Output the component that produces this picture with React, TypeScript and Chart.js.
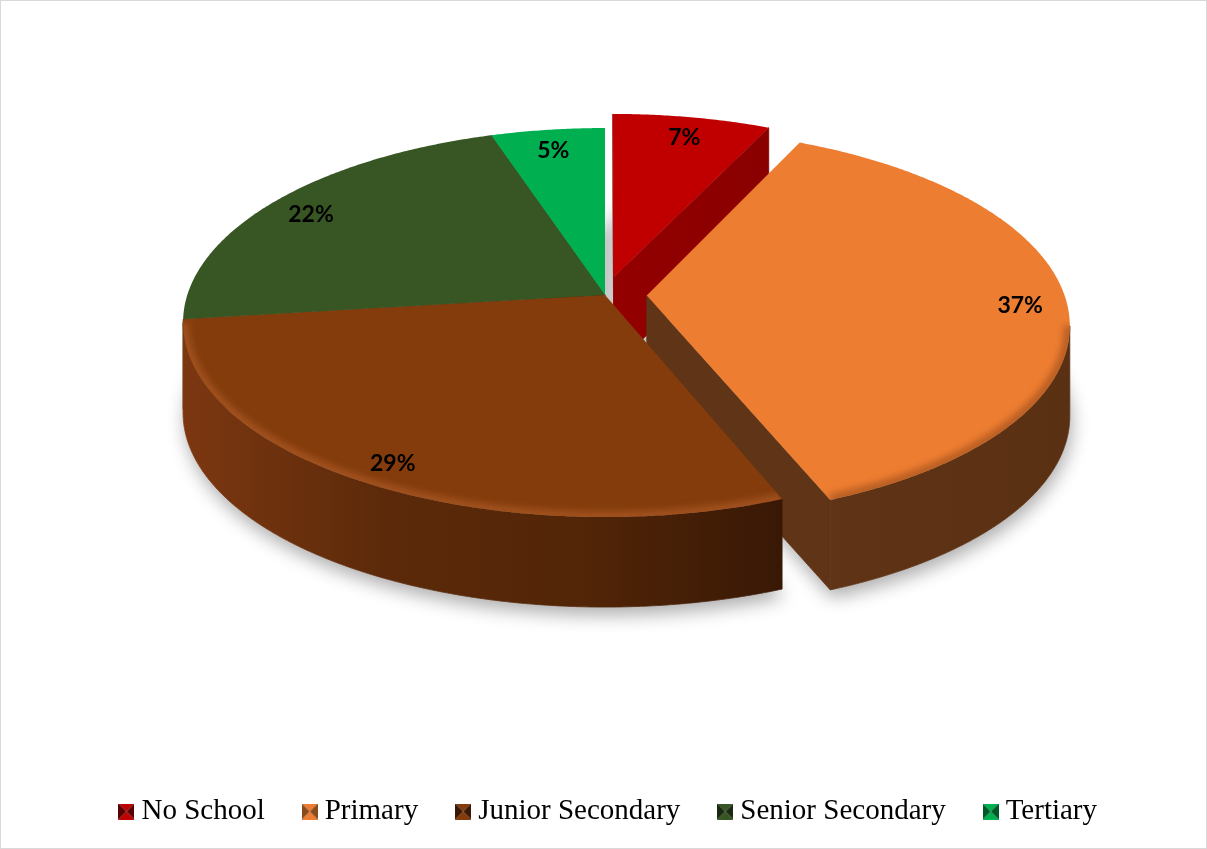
import React, { useEffect, useRef } from "react";
import { Chart, registerables } from "chart.js";

Chart.register(...registerables);

// ---- data ----
const categories = ["No School", "Primary", "Junior Secondary", "Senior Secondary", "Tertiary"];
const shares = [7, 37, 29, 22, 5];

// ---- styles ----
const topColors = ["#C00000", "#ED7D31", "#843C0C", "#375623", "#00B050"];
const sideStops = [
  ["#930000", "#8A0000"],
  ["#603416", "#5A3013"],
  ["#7C3711", "#5C2A0A", "#522507", "#381805"],
  ["#2F4A1E", "#213616"],
  ["#008A40", "#006B31"],
];
const markerDark = ["#5A0000", "#8A4A1C", "#3A1804", "#1A2A10", "#005A28"];
const rimColors = [
  "rgba(255,140,140,0.2)",
  "rgba(110,50,15,0.4)",
  "rgba(200,110,55,0.4)",
  "rgba(130,170,110,0.2)",
  "rgba(130,255,180,0.2)",
];
const explode = [0.1, 0.1, 0, 0, 0];

// projection of the tilted pie (canvas coordinates)
const CX = 604;
const CY = 294;
const AX = 417.7;
const BY = 190.6;
const PC = -0.1416;
const DEPTH = 90;
const LABEL_R = 0.89;
const LABEL_DY = 5;

function proj(u: number, v: number, h: number): [number, number] {
  const d = 1 + PC * v;
  return [CX + (AX * u) / d, CY + (BY * v) / d + h * DEPTH];
}

type Slice = {
  i: number;
  arc: any;
  mid: number;
  eu: number;
  ev: number;
  ring: [number, number][];
  key: number;
};

function buildSlices(chart: any): Slice[] {
  const meta = chart.getDatasetMeta(0);
  return meta.data.map((arc: any, i: number) => {
    const s = arc.startAngle;
    const e = arc.endAngle;
    const r = arc.outerRadius;
    const mid = (s + e) / 2;
    const eu = explode[i] * Math.cos(mid);
    const ev = explode[i] * Math.sin(mid);
    const n = Math.max(2, Math.ceil((e - s) / 0.008));
    const ring: [number, number][] = [];
    for (let k = 0; k <= n; k++) {
      const a = s + ((e - s) * k) / n;
      const px = arc.x + r * Math.cos(a);
      const py = arc.y + r * Math.sin(a);
      ring.push([eu + (px - arc.x) / r, ev + (py - arc.y) / r]);
    }
    let sv = ev;
    ring.forEach((p) => (sv += p[1]));
    return { i, arc, mid, eu, ev, ring, key: sv / (ring.length + 1) };
  });
}

function tracePoly(ctx: CanvasRenderingContext2D, pts: [number, number][]) {
  ctx.moveTo(pts[0][0], pts[0][1]);
  for (let k = 1; k < pts.length; k++) ctx.lineTo(pts[k][0], pts[k][1]);
  ctx.closePath();
}

function sideFill(ctx: CanvasRenderingContext2D, sl: Slice) {
  const xs = sl.ring.map((p) => proj(p[0], p[1], 0)[0]);
  const x0 = Math.min(...xs);
  const x1 = Math.max(...xs);
  const g = ctx.createLinearGradient(x0, 0, x1 + 1, 0);
  const stops = sideStops[sl.i];
  stops.forEach((c, k) => g.addColorStop(stops.length === 1 ? 0 : k / (stops.length - 1), c));
  return g;
}

function frontRuns(sl: Slice): [number, number][][] {
  const runs: [number, number][][] = [];
  let cur: [number, number][] | null = null;
  for (let k = 0; k < sl.ring.length - 1; k++) {
    const a = sl.ring[k];
    const b = sl.ring[k + 1];
    const pa = proj(a[0], a[1], 0);
    const pb = proj(b[0], b[1], 0);
    if (pb[0] < pa[0]) {
      if (!cur) {
        cur = [a];
        runs.push(cur);
      }
      cur.push(b);
    } else {
      cur = null;
    }
  }
  return runs;
}

const pie3d = {
  id: "pie3d",
  beforeDatasetsDraw(chart: any) {
    const ctx: CanvasRenderingContext2D = chart.ctx;
    const slices = buildSlices(chart);
    const order = [...slices].sort((a, b) => a.key - b.key);

    // soft shadow under the pie
    ctx.save();
    ctx.shadowColor = "rgba(0,0,0,0.32)";
    ctx.shadowBlur = 18;
    ctx.shadowOffsetX = 2;
    ctx.shadowOffsetY = 8;
    ctx.fillStyle = "#ffffff";
    ctx.beginPath();
    slices.forEach((sl) => {
      const pts = [proj(sl.eu, sl.ev, 1), ...sl.ring.map((p) => proj(p[0], p[1], 1))];
      tracePoly(ctx, pts);
    });
    ctx.fill();
    ctx.restore();

    // side walls
    order.forEach((sl) => {
      const fill = sideFill(ctx, sl);
      ctx.save();
      ctx.fillStyle = fill;
      ctx.strokeStyle = fill;
      ctx.lineWidth = 0.8;
      ctx.lineJoin = "round";
      const apex: [number, number] = [sl.eu, sl.ev];
      const first = sl.ring[0];
      const last = sl.ring[sl.ring.length - 1];
      const quad = (a: [number, number], b: [number, number]) => {
        const pts = [proj(a[0], a[1], 0), proj(b[0], b[1], 0), proj(b[0], b[1], 1), proj(a[0], a[1], 1)];
        ctx.beginPath();
        tracePoly(ctx, pts);
        ctx.fill();
        ctx.stroke();
      };
      if (proj(first[0], first[1], 0)[0] < proj(apex[0], apex[1], 0)[0]) quad(apex, first);
      if (proj(apex[0], apex[1], 0)[0] < proj(last[0], last[1], 0)[0]) quad(last, apex);
      frontRuns(sl).forEach((run) => {
        const pts = [
          ...run.map((p) => proj(p[0], p[1], 0)),
          ...run
            .slice()
            .reverse()
            .map((p) => proj(p[0], p[1], 1)),
        ];
        ctx.beginPath();
        tracePoly(ctx, pts);
        ctx.fill();
        ctx.stroke();
      });
      ctx.restore();
    });

    // top faces
    order.forEach((sl) => {
      const pts = [proj(sl.eu, sl.ev, 0), ...sl.ring.map((p) => proj(p[0], p[1], 0))];
      ctx.save();
      ctx.beginPath();
      tracePoly(ctx, pts);
      ctx.fillStyle = sl.arc.options.backgroundColor;
      ctx.fill();
      ctx.clip();
      ctx.filter = "blur(3px)";
      ctx.strokeStyle = rimColors[sl.i];
      ctx.lineWidth = 12;
      frontRuns(sl).forEach((run) => {
        ctx.beginPath();
        run.forEach((p, k) => {
          const q = proj(p[0], p[1], 0);
          if (k === 0) ctx.moveTo(q[0], q[1]);
          else ctx.lineTo(q[0], q[1]);
        });
        ctx.stroke();
      });
      ctx.restore();
    });
    return false;
  },
  afterDraw(chart: any) {
    const ctx: CanvasRenderingContext2D = chart.ctx;
    const slices = buildSlices(chart);
    ctx.save();
    ctx.font = "bold 23px Lato, 'Open Sans', sans-serif";
    ctx.fillStyle = "#000000";
    ctx.textAlign = "center";
    ctx.textBaseline = "middle";
    slices.forEach((sl) => {
      const u = sl.eu + LABEL_R * Math.cos(sl.mid);
      const v = sl.ev + LABEL_R * Math.sin(sl.mid);
      const p = proj(u, v, 0);
      ctx.fillText(`${chart.data.datasets[0].data[sl.i]}%`, p[0], p[1] + LABEL_DY);
    });
    ctx.restore();
  },
};

function makeMarker(i: number) {
  const c = document.createElement("canvas");
  c.width = 16;
  c.height = 16;
  const g = c.getContext("2d")!;
  const tri = (pts: number[][], col: string) => {
    g.beginPath();
    g.moveTo(pts[0][0], pts[0][1]);
    g.lineTo(pts[1][0], pts[1][1]);
    g.lineTo(pts[2][0], pts[2][1]);
    g.closePath();
    g.fillStyle = col;
    g.fill();
  };
  tri([[0, 0], [16, 0], [8, 8]], topColors[i]);
  tri([[0, 16], [16, 16], [8, 8]], topColors[i]);
  tri([[0, 0], [0, 16], [8, 8]], markerDark[i]);
  tri([[16, 0], [16, 16], [8, 8]], markerDark[i]);
  return c;
}

export default function App() {
  const ref = useRef<HTMLCanvasElement | null>(null);
  useEffect(() => {
    if (!ref.current) return;
    const markers = categories.map((_, i) => makeMarker(i));
    const baseLabels = (Chart as any).overrides.pie.plugins.legend.labels.generateLabels;
    const chart = new Chart(ref.current, {
      type: "pie",
      data: {
        labels: categories,
        datasets: [
          {
            data: shares,
            backgroundColor: topColors,
            borderWidth: 0,
          },
        ],
      },
      options: {
        responsive: false,
        animation: false,
        layout: { padding: { top: 0, left: 16, right: 0, bottom: 12 } },
        plugins: {
          tooltip: { enabled: false },
          legend: {
            position: "bottom",
            labels: {
              usePointStyle: true,
              boxWidth: 1,
              padding: 44.5,
              color: "#000000",
              font: { family: "'Liberation Serif', 'Times New Roman', serif", size: 29 },
              generateLabels: (c: any) =>
                baseLabels(c).map((it: any, i: number) => ({ ...it, pointStyle: markers[i] })),
            },
          },
        },
      },
      plugins: [pie3d as any],
    });
    return () => chart.destroy();
  }, []);
  return (
    <div
      style={{
        position: "fixed",
        left: 0,
        top: 0,
        width: 1207,
        height: 849,
        boxSizing: "border-box",
        border: "1px solid #d9d9d9",
        background: "#ffffff",
      }}
    >
      <canvas ref={ref} width={1205} height={847} style={{ display: "block" }} />
    </div>
  );
}
